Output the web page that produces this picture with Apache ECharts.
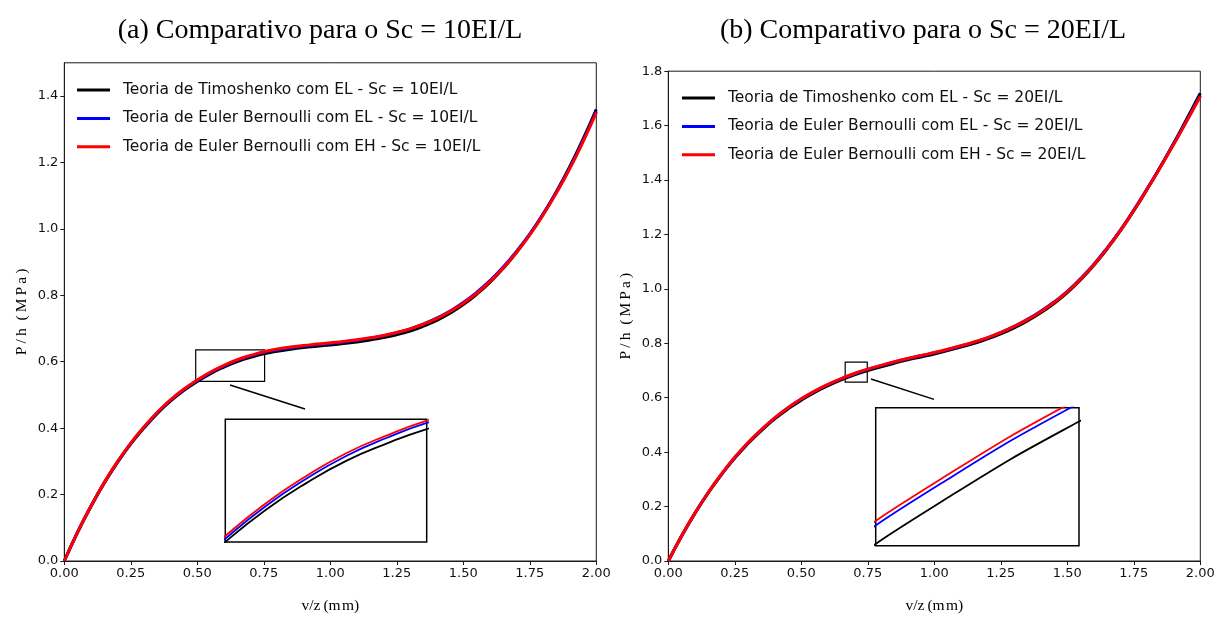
<!DOCTYPE html>
<html>
<head>
<meta charset="utf-8">
<title>Comparativo Sc</title>
<script src="https://cdn.jsdelivr.net/npm/echarts@6.0.0/dist/echarts.min.js"></script>
<style>
  html, body { margin: 0; padding: 0; background: #fff; }
  #chart { width: 1218px; height: 619px; }
</style>
</head>
<body>
<div id="chart"></div>
<script>
// Displacement v/z (mm) sampled every 0.05 mm
const xs = [0.00, 0.05, 0.10, 0.15, 0.20, 0.25, 0.30, 0.35, 0.40, 0.45,
            0.50, 0.55, 0.60, 0.65, 0.70, 0.75, 0.80, 0.85, 0.90, 0.95,
            1.00, 1.05, 1.10, 1.15, 1.20, 1.25, 1.30, 1.35, 1.40, 1.45,
            1.50, 1.55, 1.60, 1.65, 1.70, 1.75, 1.80, 1.85, 1.90, 1.95, 2.00];

// Sc = 10EI/L : P/h (MPa)
const timo10 = [0, 0.0865, 0.164, 0.2345, 0.297, 0.3525, 0.401, 0.4445, 0.482, 0.5138,
                0.5406, 0.5642, 0.5838, 0.6004, 0.6131, 0.6238, 0.6315, 0.6375, 0.6425, 0.6465,
                0.6505, 0.6545, 0.6595, 0.6655, 0.6725, 0.6815, 0.6925, 0.707, 0.7245, 0.746,
                0.772, 0.803, 0.839, 0.881, 0.929, 0.983, 1.044, 1.112, 1.187, 1.270, 1.360];
const eulerEL10 = [0, 0.0868, 0.1646, 0.2355, 0.2982, 0.354, 0.4029, 0.4467, 0.4844, 0.5162,
                   0.543, 0.567, 0.587, 0.604, 0.6172, 0.6283, 0.636, 0.642, 0.647, 0.651,
                   0.655, 0.6592, 0.6645, 0.6708, 0.678, 0.6875, 0.699, 0.7135, 0.731, 0.7525,
                   0.778, 0.8085, 0.844, 0.885, 0.932, 0.985, 1.045, 1.111, 1.184, 1.266, 1.354];
const eulerEH10 = [0, 0.087, 0.165, 0.236, 0.299, 0.355, 0.404, 0.448, 0.486, 0.518,
                   0.545, 0.569, 0.589, 0.606, 0.619, 0.630, 0.638, 0.644, 0.649, 0.653,
                   0.657, 0.661, 0.666, 0.672, 0.679, 0.688, 0.699, 0.713, 0.730, 0.751,
                   0.776, 0.806, 0.841, 0.882, 0.929, 0.982, 1.042, 1.108, 1.181, 1.262, 1.350];

// Sc = 20EI/L : P/h (MPa)
const timo20 = [0, 0.0915, 0.175, 0.250, 0.3175, 0.3785, 0.432, 0.4795, 0.522, 0.559,
                0.591, 0.6195, 0.644, 0.6655, 0.684, 0.700, 0.714, 0.727, 0.739, 0.750,
                0.761, 0.773, 0.786, 0.800, 0.816, 0.835, 0.857, 0.8825, 0.912, 0.9465,
                0.986, 1.0335, 1.087, 1.1475, 1.214, 1.2875, 1.366, 1.449, 1.535, 1.626, 1.719];
const eulerEL20 = [0, 0.092, 0.1758, 0.2512, 0.319, 0.3804, 0.4343, 0.4822, 0.525, 0.5625,
                   0.595, 0.6235, 0.648, 0.6695, 0.688, 0.704, 0.718, 0.731, 0.743, 0.754,
                   0.765, 0.777, 0.790, 0.8042, 0.8202, 0.8395, 0.862, 0.888, 0.918, 0.952,
                   0.991, 1.038, 1.091, 1.151, 1.217, 1.290, 1.368, 1.449, 1.533, 1.621, 1.711];
const eulerEH20 = [0, 0.092, 0.176, 0.2515, 0.3195, 0.381, 0.435, 0.483, 0.526, 0.5635,
                   0.596, 0.6245, 0.649, 0.6705, 0.689, 0.705, 0.719, 0.732, 0.744, 0.755,
                   0.766, 0.778, 0.791, 0.805, 0.821, 0.840, 0.862, 0.887, 0.916, 0.950,
                   0.989, 1.036, 1.089, 1.149, 1.215, 1.288, 1.366, 1.447, 1.531, 1.618, 1.707];

// Tick labels
const xTicks = [0, 0.25, 0.5, 0.75, 1.0, 1.25, 1.5, 1.75, 2.0];
const yTicks10 = [0, 0.2, 0.4, 0.6, 0.8, 1.0, 1.2, 1.4];
const yTicks20 = [0, 0.2, 0.4, 0.6, 0.8, 1.0, 1.2, 1.4, 1.6, 1.8];

// Series names
const names10 = ['Teoria de Timoshenko com EL - Sc = 10EI/L',
                 'Teoria de Euler Bernoulli com EL - Sc = 10EI/L',
                 'Teoria de Euler Bernoulli com EH - Sc = 10EI/L'];
const names20 = ['Teoria de Timoshenko com EL - Sc = 20EI/L',
                 'Teoria de Euler Bernoulli com EL - Sc = 20EI/L',
                 'Teoria de Euler Bernoulli com EH - Sc = 20EI/L'];
const colors = ['#000000', '#0000ff', '#ff0000'];

// Axis titles (spaced lettering)
const xTitle = 'v/z\u2009(m\u200am)';
const yTitle = 'P\u2009/\u2009h\u2002(\u2009M\u2009P\u2009a\u2009)';

// Zoomed windows shown in the insets (data units)
const zoom10 = { x: [0.5, 0.75], y: [0.5406, 0.631] };
const zoom20 = { x: [0.67, 0.75], y: [0.673, 0.703] };
// Marker rectangles and leader lines drawn on the main axes (data units)
const box10 = [[0.494, 0.541], [0.753, 0.6355]];
const box20 = [[0.665, 0.657], [0.748, 0.731]];
const leader10 = [[0.623, 0.530], [0.905, 0.4576]];
const leader20 = [[0.762, 0.669], [0.999, 0.594]];

const pairs = ys => xs.map((x, i) => [x, ys[i]]);

const SANS = 'DejaVu Sans';
const SERIF = 'Liberation Serif';
const AX = '#1a1a1a';

function mainX(grid) {
  return {
    type: 'value', gridIndex: grid, min: 0, max: 2, interval: 0.25,
    name: xTitle, nameLocation: 'middle', nameGap: 37,
    nameTextStyle: { fontFamily: SERIF, fontSize: 15.5, color: '#000' },
    axisLine: { show: true, onZero: false, lineStyle: { color: AX, width: 1 } },
    axisTick: { show: true, inside: false, length: 4, lineStyle: { color: AX },
                customValues: xTicks },
    axisLabel: { fontFamily: SANS, fontSize: 13, color: '#111', margin: 6,
                 customValues: xTicks, formatter: v => v.toFixed(2) },
    splitLine: { show: false }
  };
}
function mainY(grid, max, ticks) {
  return {
    type: 'value', gridIndex: grid, min: 0, max: max,
    name: yTitle, nameLocation: 'middle', nameGap: 34,
    nameTextStyle: { fontFamily: SERIF, fontSize: 15.5, color: '#000' },
    axisLine: { show: true, onZero: false, lineStyle: { color: AX, width: 1 } },
    axisTick: { show: true, inside: false, length: 4, lineStyle: { color: AX },
                customValues: ticks },
    axisLabel: { fontFamily: SANS, fontSize: 13, color: '#111', margin: 6,
                 customValues: ticks, formatter: v => v.toFixed(1) },
    splitLine: { show: false }
  };
}
function insetAxis(grid, range) {
  return { type: 'value', gridIndex: grid, min: range[0], max: range[1], show: false,
           splitLine: { show: false } };
}

function curves(names, data, axis, width, z) {
  return names.map((n, k) => ({
    type: 'line', name: n, data: pairs(data[k]),
    xAxisIndex: axis, yAxisIndex: axis,
    smooth: 0.5, showSymbol: false, symbol: 'none',
    clip: true, silent: true, z: z + k,
    lineStyle: { color: colors[k], width: width },
    itemStyle: { color: colors[k] }
  }));
}

function marker(axis, box, leader) {
  return {
    type: 'line', name: '', data: [], xAxisIndex: axis, yAxisIndex: axis,
    silent: true, z: 10,
    markArea: {
      silent: true,
      itemStyle: { color: 'rgba(0,0,0,0)', borderColor: '#000', borderWidth: 1.2 },
      data: [[{ coord: box[0] }, { coord: box[1] }]]
    },
    markLine: {
      silent: true, symbol: ['none', 'none'], label: { show: false },
      lineStyle: { color: '#000', width: 1.5, type: 'solid' },
      data: [[{ coord: leader[0] }, { coord: leader[1] }]]
    }
  };
}

function legend(names, left, top) {
  return {
    data: names, orient: 'vertical', left: left, top: top,
    icon: 'rect', itemWidth: 33, itemHeight: 3, itemGap: 10.4,
    selectedMode: false,
    textStyle: { fontFamily: SANS, fontSize: 15.5, color: '#111', lineHeight: 18,
                 padding: [0, 0, 0, 8] }
  };
}

const chart = echarts.init(document.getElementById('chart'), null, { renderer: 'canvas' });
chart.setOption({
  animation: false,
  backgroundColor: '#fff',
  title: [
    { text: '(a) Comparativo para o Sc = 10EI/L', left: 315, top: 12, textAlign: 'center',
      textStyle: { fontFamily: SERIF, fontSize: 28, fontWeight: 'normal', color: '#000' } },
    { text: '(b) Comparativo para o Sc = 20EI/L', left: 918, top: 12, textAlign: 'center',
      textStyle: { fontFamily: SERIF, fontSize: 28, fontWeight: 'normal', color: '#000' } }
  ],
  legend: [legend(names10, 72, 76), legend(names20, 677, 84)],
  grid: [
    { left: 64.3, top: 62.8, width: 532, height: 502.5, show: true,
      borderColor: AX, borderWidth: 1, backgroundColor: 'rgba(0,0,0,0)', containLabel: false },
    { left: 668.3, top: 71.2, width: 532, height: 494.1, show: true,
      borderColor: AX, borderWidth: 1, backgroundColor: 'rgba(0,0,0,0)', containLabel: false },
    { left: 225.3, top: 419.3, width: 201.4, height: 122.7, show: true,
      borderColor: '#000', borderWidth: 1.5, backgroundColor: '#fff', containLabel: false },
    { left: 875.7, top: 407.7, width: 203.3, height: 138, show: true,
      borderColor: '#000', borderWidth: 1.5, backgroundColor: '#fff', containLabel: false }
  ],
  xAxis: [mainX(0), mainX(1), insetAxis(2, zoom10.x), insetAxis(3, zoom20.x)],
  yAxis: [mainY(0, 1.5, yTicks10), mainY(1, 1.8, yTicks20),
          insetAxis(2, zoom10.y), insetAxis(3, zoom20.y)],
  series: [].concat(
    curves(names10, [timo10, eulerEL10, eulerEH10], 0, 3, 3),
    curves(names20, [timo20, eulerEL20, eulerEH20], 1, 3, 3),
    curves(names10, [timo10, eulerEL10, eulerEH10], 2, 1.8, 3),
    curves(names20, [timo20, eulerEL20, eulerEH20], 3, 1.8, 3),
    [marker(0, box10, leader10), marker(1, box20, leader20)]
  )
});
</script>
</body>
</html>
